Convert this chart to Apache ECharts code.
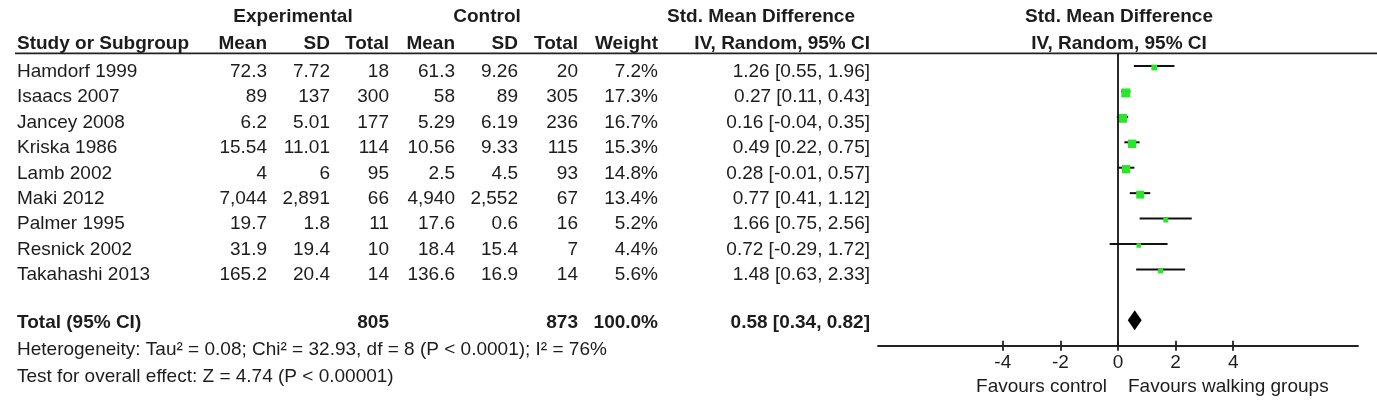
<!DOCTYPE html>
<html>
<head>
<meta charset="utf-8">
<script src="https://cdn.jsdelivr.net/npm/echarts@6/dist/echarts.min.js"></script>
<style>
html,body{margin:0;padding:0;background:#fff;}
#chart{width:1377px;height:405px;}
</style>
</head>
<body>
<div id="chart"></div>
<script>
// ---------------- data ----------------
const studies   = ['Hamdorf 1999','Isaacs 2007','Jancey 2008','Kriska 1986','Lamb 2002','Maki 2012','Palmer 1995','Resnick 2002','Takahashi 2013'];
const expMean   = ['72.3','89','6.2','15.54','4','7,044','19.7','31.9','165.2'];
const expSD     = ['7.72','137','5.01','11.01','6','2,891','1.8','19.4','20.4'];
const expTotal  = [18,300,177,114,95,66,11,10,14];
const ctlMean   = ['61.3','58','5.29','10.56','2.5','4,940','17.6','18.4','136.6'];
const ctlSD     = ['9.26','89','6.19','9.33','4.5','2,552','0.6','15.4','16.9'];
const ctlTotal  = [20,305,236,115,93,67,16,7,14];
const weights   = [7.2,17.3,16.7,15.3,14.8,13.4,5.2,4.4,5.6];
const smd       = [1.26,0.27,0.16,0.49,0.28,0.77,1.66,0.72,1.48];
const ciLow     = [0.55,0.11,-0.04,0.22,-0.01,0.41,0.75,-0.29,0.63];
const ciHigh    = [1.96,0.43,0.35,0.75,0.57,1.12,2.56,1.72,2.33];

const totalLabel  = 'Total (95% CI)';
const totalExp    = 805;
const totalCtl    = 873;
const totalWeight = 100.0;
const totalSMD    = 0.58;
const totalLow    = 0.34;
const totalHigh   = 0.82;

const heterogeneity = 'Heterogeneity: Tau² = 0.08; Chi² = 32.93, df = 8 (P < 0.0001); I² = 76%';
const overallTest   = 'Test for overall effect: Z = 4.74 (P < 0.00001)';

const xTicks = [-4,-2,0,2,4];
const xLabelLeft  = 'Favours control';
const xLabelRight = 'Favours walking groups';

// ---------------- layout / style ----------------
const FONT = '"Liberation Sans", Arial, sans-serif';
const FS = 19;
const TXT = '#1c1c1c';
const GREEN = '#2be52b';
const TOTAL_ROW = 10;

// column right edges (px)
const colX = {name:17, expMean:267, expSD:330, expTotal:389, ctlMean:455, ctlSD:518, ctlTotal:578, weight:658, ci:870};

function fmtCI(m,l,h){return m.toFixed(2)+' ['+l.toFixed(2)+', '+h.toFixed(2)+']';}

// table data (one row per study + total row)
const tableData = studies.map((s,i)=>[0,i,i]);
tableData.push([0,TOTAL_ROW,-1]);

function txt(x,y,text,align,bold){
  return {type:'text',style:{x:x,y:y,text:String(text),align:align,verticalAlign:'middle',
    font:(bold?'bold ':'')+FS+'px '+FONT,fill:TXT}};
}

const forestData = studies.map((s,i)=>[ciLow[i],ciHigh[i],i,smd[i],weights[i]]);

const chart = echarts.init(document.getElementById('chart'),null,{renderer:'canvas'});

const headerFont = 'bold '+FS+'px '+FONT;
function htext(x,y,text,align){
  return {type:'text',silent:true,style:{x:x,y:y,text:text,align:align,verticalAlign:'middle',font:headerFont,fill:TXT}};
}

chart.setOption({
  backgroundColor:'#fff',
  animation:false,
  grid:{left:878,right:19,top:53.3,bottom:59.3,containLabel:false},
  xAxis:[
    {type:'value',min:-8.33,max:8.33,position:'bottom',
     axisLine:{show:true,onZero:false,lineStyle:{color:'#222',width:1.8}},
     axisTick:{show:true,inside:false,length:5,customValues:xTicks,lineStyle:{color:'#222',width:1.8}},
     axisLabel:{show:true,customValues:xTicks,margin:8,color:TXT,fontSize:FS,fontFamily:FONT},
     splitLine:{show:false}},
    {type:'value',min:-8.33,max:8.33,position:'bottom',gridIndex:0,
     axisLine:{show:false,onZero:false},
     axisTick:{show:true,inside:true,length:5,customValues:xTicks,lineStyle:{color:'#222',width:1.8}},
     axisLabel:{show:false},splitLine:{show:false}}
  ],
  yAxis:{type:'value',inverse:true,min:-0.5,max:11.0,show:false},
  graphic:[
    {type:'line',silent:true,shape:{x1:15,y1:53.3,x2:1377,y2:53.3},style:{stroke:'#222',lineWidth:1.8}},
    htext(293,17,'Experimental','center'),
    htext(487,17,'Control','center'),
    htext(761,17,'Std. Mean Difference','center'),
    htext(1119,17,'Std. Mean Difference','center'),
    htext(colX.name,43.5,'Study or Subgroup','left'),
    htext(colX.expMean,43.5,'Mean','right'),
    htext(colX.expSD,43.5,'SD','right'),
    htext(colX.expTotal,43.5,'Total','right'),
    htext(colX.ctlMean,43.5,'Mean','right'),
    htext(colX.ctlSD,43.5,'SD','right'),
    htext(colX.ctlTotal,43.5,'Total','right'),
    htext(colX.weight,43.5,'Weight','right'),
    htext(colX.ci,43.5,'IV, Random, 95% CI','right'),
    htext(1119,43.5,'IV, Random, 95% CI','center'),
    {type:'text',silent:true,style:{x:colX.name,y:350,text:heterogeneity,align:'left',verticalAlign:'middle',font:FS+'px '+FONT,fill:TXT}},
    {type:'text',silent:true,style:{x:colX.name,y:376.5,text:overallTest,align:'left',verticalAlign:'middle',font:FS+'px '+FONT,fill:TXT}},
    {type:'text',silent:true,style:{x:1107,y:386.5,text:xLabelLeft,align:'right',verticalAlign:'middle',font:FS+'px '+FONT,fill:TXT}},
    {type:'text',silent:true,style:{x:1128,y:386.5,text:xLabelRight,align:'left',verticalAlign:'middle',font:FS+'px '+FONT,fill:TXT}}
  ],
  series:[
    { // table text
      type:'custom',clip:false,silent:true,
      data:tableData,
      renderItem:function(params,api){
        const row=api.value(1), idx=api.value(2);
        const base=api.coord([0,row])[1];
        if(idx>=0){
          const y=base+5.6;
          return {type:'group',children:[
            txt(colX.name,y,studies[idx],'left',false),
            txt(colX.expMean,y,expMean[idx],'right',false),
            txt(colX.expSD,y,expSD[idx],'right',false),
            txt(colX.expTotal,y,expTotal[idx],'right',false),
            txt(colX.ctlMean,y,ctlMean[idx],'right',false),
            txt(colX.ctlSD,y,ctlSD[idx],'right',false),
            txt(colX.ctlTotal,y,ctlTotal[idx],'right',false),
            txt(colX.weight,y,weights[idx].toFixed(1)+'%','right',false),
            txt(colX.ci,y,fmtCI(smd[idx],ciLow[idx],ciHigh[idx]),'right',false)
          ]};
        }
        const y=base+2.2;
        return {type:'group',children:[
          txt(colX.name,y,totalLabel,'left',true),
          txt(colX.expTotal,y,totalExp,'right',true),
          txt(colX.ctlTotal,y,totalCtl,'right',true),
          txt(colX.weight,y,totalWeight.toFixed(1)+'%','right',true),
          txt(colX.ci,y,fmtCI(totalSMD,totalLow,totalHigh),'right',true)
        ]};
      }
    },
    { // whiskers + squares
      type:'custom',clip:false,silent:true,
      data:forestData,
      renderItem:function(params,api){
        const p1=api.coord([api.value(0),api.value(2)]);
        const p2=api.coord([api.value(1),api.value(2)]);
        const c=api.coord([api.value(3),api.value(2)]);
        const side=2.16*Math.sqrt(api.value(4));
        return {type:'group',children:[
          {type:'line',shape:{x1:p1[0],y1:p1[1],x2:p2[0],y2:p2[1]},style:{stroke:'#111',lineWidth:2}},
          {type:'rect',shape:{x:c[0]-side/2,y:c[1]+1.5-side/2,width:side,height:side},style:{fill:GREEN}}
        ]};
      },
      markLine:{silent:true,symbol:'none',label:{show:false},lineStyle:{color:'#111',width:1.8,type:'solid'},
        data:[{xAxis:0}]}
    },
    { // total diamond
      type:'custom',clip:false,silent:true,
      data:[[totalLow,totalHigh,TOTAL_ROW,totalSMD]],
      renderItem:function(params,api){
        const r=api.value(2);
        const l=api.coord([api.value(0),r]);
        const h=api.coord([api.value(1),r]);
        const m=api.coord([api.value(3),r]);
        const hh=10;
        return {type:'polygon',shape:{points:[[l[0],l[1]],[m[0],m[1]-hh],[h[0],h[1]],[m[0],m[1]+hh]]},style:{fill:'#000'}};
      }
    }
  ]
});
</script>
</body>
</html>
